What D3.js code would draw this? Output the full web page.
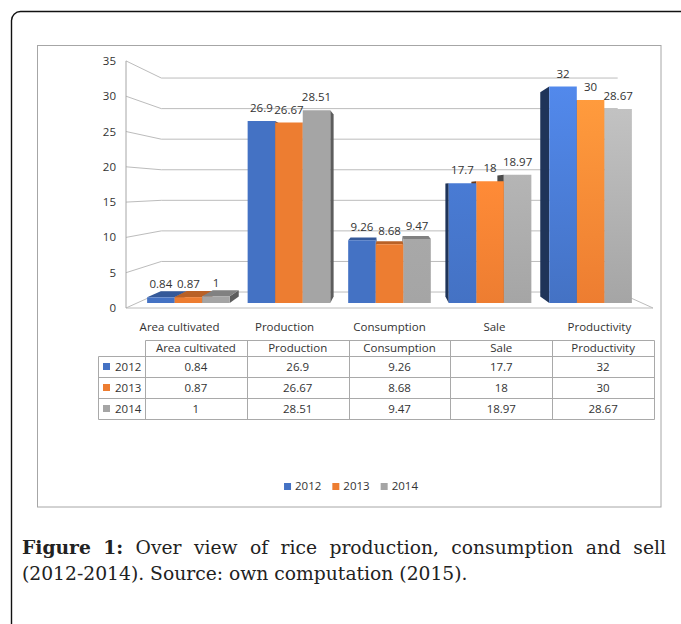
<!DOCTYPE html>
<html><head><meta charset="utf-8">
<script src="https://cdn.jsdelivr.net/npm/d3@7"></script>
<style>body{margin:0;background:#fff;} svg{display:block;}</style>
</head><body><svg id="c" width="681" height="624"></svg>
<script>
// ---------- data ----------
const categories = ["Area cultivated", "Production", "Consumption", "Sale", "Productivity"];
const years = ["2012", "2013", "2014"];
const values2012 = [0.84, 26.9, 9.26, 17.7, 32];
const values2013 = [0.87, 26.67, 8.68, 18, 30];
const values2014 = [1, 28.51, 9.47, 18.97, 28.67];
const yTicks = [0, 5, 10, 15, 20, 25, 30, 35];
const seriesColors = ["#4472C4", "#ED7D31", "#A5A5A5"];
const captionBold = "Figure 1:";
const captionLine1 = "Over view of rice production, consumption and sell";
const captionLine2 = "(2012-2014). Source: own computation (2015).";

const series = years.map((yr, j) => ({ year: yr, values: [values2012, values2013, values2014][j], color: seriesColors[j] }));

// ---------- setup ----------
const W = 681, H = 624;
const FONT = "'Open Sans', 'Liberation Sans', sans-serif";
const TXT = "#333";
const svg = d3.select("#c");
svg.append("rect").attr("width", W).attr("height", H).attr("fill", "#fff");
const defs = svg.append("defs");

// outer frame (rounded top-left, runs off page)
const r = 9;
svg.append("path")
  .attr("d", `M11.5,${H + 2} L11.5,${11.5 + r} A${r},${r} 0 0 1 ${11.5 + r},11.5 L${W + 2},11.5`)
  .attr("fill", "none").attr("stroke", "#111").attr("stroke-width", 1.4);

// chart area frame
svg.append("rect").attr("x", 37.5).attr("y", 45.5).attr("width", 623.5).attr("height", 461.5)
  .attr("fill", "#fff").attr("stroke", "#a6a6a6");

// ---------- scales & perspective ----------
const y = d3.scaleLinear().domain([0, 35]).range([308, 60.9]);
const x = d3.scaleBand().domain(categories).range([126, 653]).paddingInner(0.178).paddingOuter(0.1);
const xs = d3.scaleBand().domain(years).range([0, x.bandwidth()]);
const [xL, xR] = x.range();
const cx = (xL + xR) / 2, cy = 188.8, k = 0.134;
const Z1 = 0.313, Z2 = 0.716;
function P(X, V, Z) { const s = 1 - k * Z; return [cx + (X - cx) * s, cy + (y(V) - cy) * s]; }
const line = pts => "M" + pts.map(p => p[0].toFixed(2) + "," + p[1].toFixed(2)).join("L");
const poly = pts => line(pts) + "Z";

// ---------- walls / grid ----------
const grid = svg.append("g").attr("fill", "none").attr("stroke", "#bcbcbc").attr("stroke-width", 1);
yTicks.forEach(v => {
  grid.append("path").attr("d", line([P(xL, v, 0), P(xL, v, 1), P(xR, v, 1)]));
});
grid.append("path").attr("d", line([P(xL, 0, 0), P(xR, 0, 0), P(xR, 0, 1)]));
grid.append("path").attr("d", line([P(xL, 0, 0), P(xL, d3.max(yTicks), 0)])).attr("stroke", "#a6a6a6");

// y tick labels
svg.append("g").selectAll("text").data(yTicks).join("text")
  .attr("x", d => P(xL, d, 0)[0] - 10).attr("y", d => P(xL, d, 0)[1] + 4)
  .attr("text-anchor", "end").attr("font-family", FONT).attr("font-size", 11.5).attr("fill", TXT)
  .text(d => d);

// ---------- bars ----------
const bars = [];
series.forEach((s, j) => categories.forEach((c, i) => {
  const X0 = x(c) + xs(s.year), X1 = X0 + xs.bandwidth();
  bars.push({ c, i, j, v: s.values[i], X0, X1, color: s.color, year: s.year });
}));
bars.sort((a, b) => Math.abs((b.X0 + b.X1) / 2 - cx) - Math.abs((a.X0 + a.X1) / 2 - cx));

const gb = svg.append("g");
bars.forEach((b, n) => {
  const col = d3.color(b.color);
  const mid = (b.X0 + b.X1) / 2;
  const g = gb.append("g");
  // side face toward centre
  if (b.X1 < cx) {
    g.append("path").attr("d", poly([P(b.X1, 0, Z1), P(b.X1, b.v, Z1), P(b.X1, b.v, Z2), P(b.X1, 0, Z2)]))
      .attr("fill", col.darker(1.6));
  } else if (b.X0 > cx) {
    g.append("path").attr("d", poly([P(b.X0, 0, Z1), P(b.X0, b.v, Z1), P(b.X0, b.v, Z2), P(b.X0, 0, Z2)]))
      .attr("fill", col.darker(2.2));
  }
  // top face if below eye level
  if (y(b.v) > cy) {
    g.append("path").attr("d", poly([P(b.X0, b.v, Z1), P(b.X1, b.v, Z1), P(b.X1, b.v, Z2), P(b.X0, b.v, Z2)]))
      .attr("fill", col.darker(0.7));
  }
  // front face with lighting gradient on right side of the view
  const pos = Math.max(0, (mid - cx) / (xR - cx));
  let fill = b.color;
  if (pos > 0.05) {
    const id = "gr" + n;
    const lg = defs.append("linearGradient").attr("id", id).attr("x1", 0).attr("y1", 1).attr("x2", 0).attr("y2", 0);
    lg.append("stop").attr("offset", "0%").attr("stop-color", b.color);
    lg.append("stop").attr("offset", "100%").attr("stop-color", col.brighter(pos * (b.j === 2 ? 0.5 : 0.75)));
    fill = `url(#${id})`;
  }
  g.append("path").attr("d", poly([P(b.X0, 0, Z1), P(b.X1, 0, Z1), P(b.X1, b.v, Z1), P(b.X0, b.v, Z1)]))
    .attr("fill", fill);
});

// data labels
svg.append("g").selectAll("text").data(bars).join("text")
  .attr("x", d => P((d.X0 + d.X1) / 2, d.v, Z1)[0])
  .attr("y", d => P((d.X0 + d.X1) / 2, d.v, Z1)[1] - 9)
  .attr("text-anchor", "middle").attr("font-family", FONT).attr("font-size", 11.5).attr("fill", TXT)
  .text(d => d.v);

// category labels
svg.append("g").selectAll("text").data(categories).join("text")
  .attr("x", d => x(d) + x.bandwidth() / 2).attr("y", 331)
  .attr("text-anchor", "middle").attr("font-family", FONT).attr("font-size", 11.5).attr("fill", TXT)
  .text(d => d);

// ---------- data table ----------
const tx = d3.scaleBand().domain(categories).range([145, 654]);
const ty = d3.scaleBand().domain(years).range([356, 419]);
const keyX = 98, headTop = 340, tBottom = 419;
const tg = svg.append("g").attr("stroke", "#a9a9a9").attr("stroke-width", 1).attr("fill", "none");
const cr = v => Math.round(v) + 0.5;
tg.append("path").attr("d", `M${cr(tx.range()[0])},${cr(headTop)}H${cr(tx.range()[1])}`);
years.concat(["_end"]).forEach(yr => {
  const yy = yr === "_end" ? tBottom : ty(yr);
  tg.append("path").attr("d", `M${cr(keyX)},${cr(yy)}H${cr(tx.range()[1])}`);
});
tg.append("path").attr("d", `M${cr(keyX)},${cr(ty.range()[0])}V${cr(tBottom)}`);
categories.forEach(c => tg.append("path").attr("d", `M${cr(tx(c))},${cr(headTop)}V${cr(tBottom)}`));
tg.append("path").attr("d", `M${cr(tx.range()[1])},${cr(headTop)}V${cr(tBottom)}`);

svg.append("g").selectAll("text").data(categories).join("text")
  .attr("x", d => tx(d) + tx.bandwidth() / 2).attr("y", 352)
  .attr("text-anchor", "middle").attr("font-family", FONT).attr("font-size", 11.5).attr("fill", TXT)
  .text(d => d);

series.forEach(s => {
  const ry = ty(s.year);
  svg.append("rect").attr("x", 103).attr("y", ry + 7).attr("width", 7).attr("height", 7).attr("fill", s.color);
  svg.append("text").attr("x", 115).attr("y", ry + 15).attr("font-family", FONT).attr("font-size", 11.5)
    .attr("fill", TXT).text(s.year);
  svg.append("g").selectAll("text").data(categories).join("text")
    .attr("x", d => tx(d) + tx.bandwidth() / 2).attr("y", ry + 15)
    .attr("text-anchor", "middle").attr("font-family", FONT).attr("font-size", 11.5).attr("fill", TXT)
    .text((d, i) => s.values[i]);
});

// ---------- legend ----------
const lg = svg.append("g");
let lx = 0;
series.forEach(s => {
  const it = lg.append("g").attr("transform", `translate(${lx},0)`);
  it.append("rect").attr("x", 0).attr("y", -7).attr("width", 7).attr("height", 7).attr("fill", s.color);
  const t = it.append("text").attr("x", 11).attr("y", 0).attr("font-family", FONT).attr("font-size", 11.5)
    .attr("fill", TXT).text(s.year);
  lx += 11 + t.node().getComputedTextLength() + 11;
});
const lw = lx - 11;
lg.attr("transform", `translate(${(37 + 661) / 2 + 2 - lw / 2},490)`);

// ---------- caption ----------
const CF = "'DejaVu Serif', 'Liberation Serif', serif";
const capX0 = 22, capX1 = 666;
const meas = svg.append("text").attr("font-family", CF).attr("font-size", 20).text(captionLine2);
const fs = 20 * 446 / meas.node().getComputedTextLength();
meas.remove();
const words = captionBold.split(" ").map(t => ({ t, b: true })).concat(captionLine1.split(" ").map(t => ({ t, b: false })));
const cg = svg.append("g").attr("font-family", CF).attr("font-size", fs).attr("fill", "#222");
const nodes = words.map(w => cg.append("text").attr("y", 554).attr("font-weight", w.b ? "bold" : "normal").text(w.t));
const widths = nodes.map(nd => nd.node().getComputedTextLength());
const gap = (capX1 - capX0 - d3.sum(widths)) / (words.length - 1);
let cxp = capX0;
nodes.forEach((nd, i) => { nd.attr("x", cxp); cxp += widths[i] + gap; });
cg.append("text").attr("x", capX0).attr("y", 580).text(captionLine2);
</script>
</body></html>
